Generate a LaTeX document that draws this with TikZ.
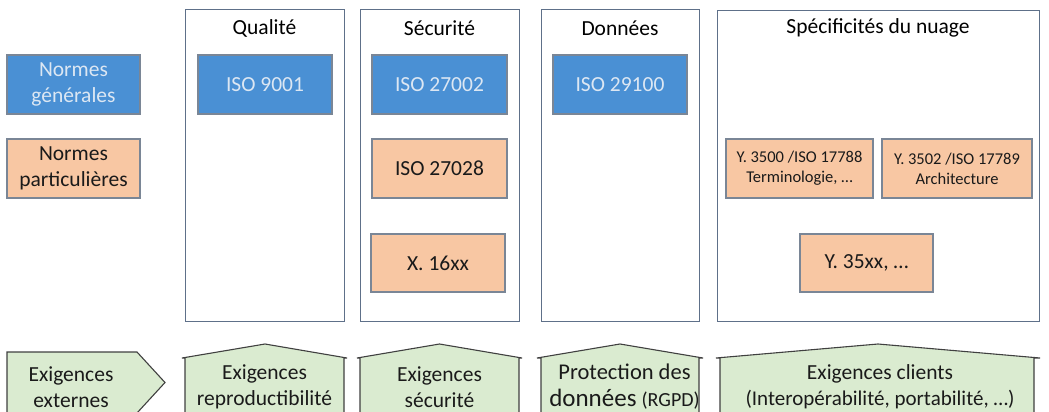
\documentclass[tikz,border=0pt]{standalone}
\usepackage{fontspec}
\setmainfont{Carlito}
\begin{document}
\begin{tikzpicture}[x=1pt,y=-1pt,
  coltitle/.style={font=\fontsize{21.5}{26}\selectfont, text=black, inner sep=0pt},
  colbox/.style={draw=colborder, line width=0.9pt, inner sep=0pt},
  genbox/.style={draw=boxborder, line width=1.2pt, fill=bluefill, text=bluetext,
     align=center, inner sep=0pt, font=\fontsize{21.5}{26}\selectfont},
  partbox/.style={draw=boxborder, line width=1.2pt, fill=orangefill, text=darktext,
     align=center, inner sep=0pt, font=\fontsize{21.5}{26}\selectfont},
  smallbox/.style={partbox, font=\fontsize{16.5}{20}\selectfont},
  reqshape/.style={draw=reqborder, line width=1.1pt, fill=greenfill},
  reqtext/.style={align=center, text=darktext, inner sep=0pt, font=\fontsize{21.5}{26}\selectfont}
]
\definecolor{colborder}{HTML}{5E7089}
\definecolor{boxborder}{HTML}{7A8696}
\definecolor{bluefill}{HTML}{4A90D4}
\definecolor{bluetext}{HTML}{DCE7F3}
\definecolor{orangefill}{HTML}{F8C7A3}
\definecolor{greenfill}{HTML}{DAEBD0}
\definecolor{reqborder}{HTML}{404040}
\definecolor{darktext}{HTML}{1A1A1A}
\useasboundingbox (0,0) rectangle (1049,412);
\clip (0,0) rectangle (1049,412);

% columns
\node[colbox, minimum width=159pt, minimum height=312pt] (colqual) at (264.5,165) {};
\node[colbox, minimum width=159pt, minimum height=312pt] (colsec) at (439.5,165) {};
\node[colbox, minimum width=158pt, minimum height=312pt] (coldon) at (620,165) {};
\node[colbox, minimum width=322pt, minimum height=311pt] (colspec) at (878,165.5) {};

\node[coltitle] (tqual) at (264.5,28) {Qualité};
\node[coltitle] (tsec) at (439.5,28) {Sécurité};
\node[coltitle] (tdon) at (620,28) {Données};
\node[coltitle] (tspec) at (878,28) {Spécificités du nuage};

% legend
\node[genbox, minimum width=133pt, minimum height=59pt] (ng) at (73.5,84.5) {Normes\\générales};
\node[partbox, minimum width=133pt, minimum height=59pt] (np) at (73.5,168.5) {Normes\\particulières};

% general norms
\node[genbox, minimum width=134pt, minimum height=59pt] (iso9001) at (265,84.5) {ISO 9001};
\node[genbox, minimum width=135pt, minimum height=59pt] (iso27002) at (439.5,84.5) {ISO 27002};
\node[genbox, minimum width=134pt, minimum height=59pt] (iso29100) at (620,84.5) {ISO 29100};

% particular norms
\node[partbox, minimum width=135pt, minimum height=59pt] (iso27028) at (439.5,168.5) {ISO 27028};
\node[partbox, minimum width=134pt, minimum height=58pt] (x16xx) at (438,263) {X. 16xx};
\node[smallbox, minimum width=147pt, minimum height=59pt] (y3500) at (799.5,168.5) {Y. 3500 /ISO 17788\\Terminologie, …};
\node[smallbox, minimum width=150pt, minimum height=59pt] (y3502) at (957,168.5) {Y. 3502 /ISO 17789\\Architecture};
\node[partbox, minimum width=133pt, minimum height=58pt] (y35xx) at (866.5,263) {Y. 35xx, …};

% requirements
\path[reqshape] (7,352) -- (137,352) -- (165,382.5) -- (137,413) -- (7,413) -- (7,420) -- cycle;
\path[reqshape] (185,416) -- (185,358) -- (182,358) -- (265,344) -- (347,358) -- (344,358) -- (344,416);
\path[reqshape] (360,416) -- (360,358) -- (357,358) -- (439.5,344) -- (522,358) -- (519,358) -- (519,416);
\path[reqshape] (541,416) -- (541,358) -- (537,358) -- (620,344) -- (703,358) -- (699,358) -- (699,416);
\path[reqshape] (720,416) -- (720,358) -- (716,358) -- (878,344) -- (1040,358) -- (1034,358) -- (1034,416);

\node[reqtext] (rext) at (71,387) {Exigences\\externes};
\node[reqtext] (rrep) at (264.5,387) {Exigences\\reproductibilité};
\node[reqtext] (rsec) at (439.5,387) {Exigences\\sécurité};
\node[reqtext, font=\fontsize{22.5}{27}\selectfont] (rdon) at (624.5,387) {Protection des\\{\fontsize{25}{27}\selectfont données} {\fontsize{20}{27}\selectfont(RGPD)}};
\node[reqtext] (rcli) at (880,387) {Exigences clients\\{\fontsize{21}{26}\selectfont(Interopérabilité, portabilité, …)}};
\end{tikzpicture}
\end{document}
